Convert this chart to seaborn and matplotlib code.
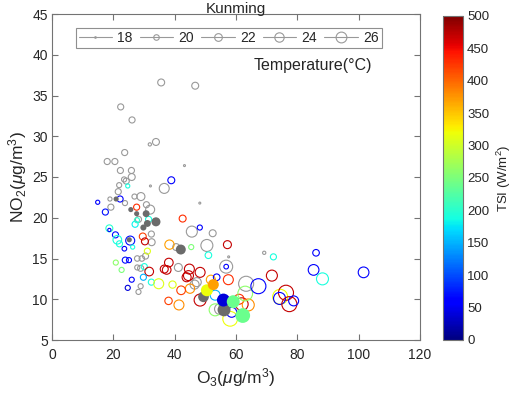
import numpy as np
import pandas as pd
import matplotlib
matplotlib.use("Agg")
import matplotlib.pyplot as plt
import seaborn as sns
from matplotlib.lines import Line2D
from matplotlib.cm import ScalarMappable
from matplotlib.colors import Normalize

sns.set_style("white")
plt.rcParams['font.family'] = ['Liberation Sans', 'DejaVu Sans']
plt.rcParams['mathtext.fontset'] = 'custom'
plt.rcParams['mathtext.rm'] = 'Liberation Sans'
plt.rcParams['mathtext.it'] = 'Liberation Sans:italic'

nan = np.nan
# O3 (ug/m3), NO2 (ug/m3), temperature (C), TSI (W/m2, nan = not available), filled marker
O3 = [35.6, 46.7, 22.4, 26.1, 33.9, 31.9, 23.7, 18.0, 20.5, 22.3, 25.9, 26.0, 43.2, 23.5, 24.2,
      21.9, 24.7, 32.1, 38.9, 36.6, 21.6, 14.9, 19.2, 18.9, 20.9, 22.2, 23.8, 26.9, 29.0, 48.2,
      17.4, 25.7, 27.6, 30.8, 32.0, 27.6, 30.7, 33.9, 31.1, 28.2, 18.7, 18.7, 27.1, 27.7, 29.8,
      31.5, 42.6, 48.2, 45.6, 52.4, 32.4, 20.7, 21.3, 22.0, 25.5, 25.2, 26.3, 23.6, 29.6, 30.3,
      32.5, 38.3, 42.0, 40.5, 45.4, 50.5, 57.2, 20.8, 23.9, 22.7, 25.1, 26.0, 24.7, 27.8, 29.3,
      31.1, 30.5, 30.1, 27.8, 28.9, 31.7, 29.8, 32.4, 34.8, 39.3, 28.9, 28.2, 38.1, 37.4, 41.2,
      36.6, 44.5, 44.8, 43.9, 47.2, 46.5, 48.3, 45.0, 42.1, 38.0, 41.4, 48.3, 49.4, 50.5, 52.6,
      51.8, 53.2, 53.7, 57.5, 55.9, 56.1, 59.1, 62.2, 61.9, 61.0, 64.0, 63.0, 58.1, 53.2, 54.8,
      58.6, 63.3, 67.3, 71.7, 56.8, 56.8, 57.6, 69.2, 72.2, 86.1, 85.3, 88.2, 101.6, 74.4, 76.3,
      74.2, 77.4, 78.8, 51.0]
NO2 = [36.6, 36.2, 33.6, 32.0, 29.3, 29.0, 28.0, 26.9, 26.9, 25.8, 25.8, 25.0, 26.4, 24.7, 24.5,
       24.0, 23.9, 23.9, 24.6, 23.6, 23.2, 21.9, 21.3, 22.3, 22.3, 22.3, 21.8, 22.6, 22.6, 21.8,
       20.7, 21.0, 21.3, 21.6, 21.0, 20.5, 20.5, 19.5, 19.3, 19.8, 18.7, 18.5, 19.2, 19.7, 18.8,
       19.8, 19.9, 18.8, 18.3, 18.1, 18.0, 17.9, 17.3, 16.8, 17.2, 17.3, 16.4, 16.2, 17.7, 17.1,
       17.0, 16.7, 16.1, 16.4, 16.4, 16.6, 16.7, 14.5, 14.8, 13.6, 14.8, 12.4, 11.4, 15.0, 15.0,
       15.9, 15.3, 14.0, 13.9, 13.8, 13.4, 12.7, 12.1, 11.9, 11.8, 11.6, 10.9, 14.5, 13.6, 13.9,
       13.7, 12.9, 13.7, 12.7, 12.1, 11.8, 13.3, 11.3, 11.1, 9.8, 9.3, 9.9, 10.3, 11.1, 11.8,
       12.4, 10.5, 12.7, 12.4, 9.9, 8.7, 9.7, 8.0, 9.4, 10.0, 9.3, 10.7, 7.6, 8.7, 8.8,
       8.4, 11.9, 11.6, 12.9, 14.0, 14.0, 15.2, 15.7, 15.2, 15.7, 13.6, 12.5, 13.3, 10.3, 10.8,
       10.1, 9.4, 9.8, 15.4]
TEMP = [20.0, 20.0, 19.5, 19.5, 20.0, 18.3, 19.5, 19.5, 19.5, 19.5, 19.5, 20.0, 18.0, 19.0, 19.5,
        19.0, 18.6, 18.0, 20.0, 22.3, 19.5, 18.6, 19.5, 18.6, 19.0, 19.5, 19.0, 19.0, 20.7, 18.0,
        19.5, 19.0, 19.5, 19.5, 21.5, 19.0, 20.0, 21.5, 20.0, 19.5, 20.0, 18.3, 19.5, 19.0, 19.5,
        19.5, 20.0, 19.0, 23.3, 20.0, 19.5, 19.5, 21.2, 19.5, 21.5, 19.0, 18.6, 18.8, 20.0, 20.0,
        20.0, 21.7, 22.3, 20.0, 19.0, 24.3, 20.7, 19.0, 19.5, 19.0, 19.0, 19.0, 19.0, 19.2, 19.2,
        19.5, 19.5, 19.5, 19.0, 19.5, 21.2, 19.5, 19.5, 22.3, 20.2, 19.0, 19.0, 21.2, 21.2, 20.7,
        20.7, 22.3, 22.3, 21.5, 21.5, 21.5, 22.3, 21.7, 21.2, 20.3, 22.3, 24.3, 23.0, 24.3, 23.3,
        21.5, 22.3, 19.8, 22.3, 25.4, 25.4, 25.4, 27.6, 25.0, 22.3, 24.3, 27.6, 27.6, 24.3, 23.3,
        22.3, 28.0, 28.0, 23.3, 25.4, 18.8, 18.0, 18.3, 19.5, 19.8, 23.0, 24.3, 23.0, 28.0, 28.5,
        24.3, 28.0, 22.3, 19.8]
TSI = [nan, nan, nan, nan, nan, nan, nan, nan, nan, nan, nan, nan, nan, nan, nan,
       nan, 190, nan, 60, nan, nan, 60, nan, nan, nan, 60, nan, nan, nan, nan,
       70, nan, 430, nan, nan, nan, nan, nan, nan, nan, 200, 60, 180, 200, nan,
       190, 430, 60, nan, nan, nan, 70, 190, 190, 70, nan, 190, 60, 420, 470,
       nan, 370, nan, nan, 250, nan, 470, 260, 70, 250, 60, 60, 40, nan, nan,
       310, nan, 190, nan, nan, 470, 150, 190, 310, 310, nan, nan, 470, 470, nan,
       470, 470, 470, 470, nan, nan, 470, 380, 420, 420, 380, 470, nan, 320, 370,
       370, 150, 60, 430, 40, nan, 240, 240, 470, 430, 380, 260, 320, 260, nan,
       60, nan, 60, 470, nan, 60, nan, nan, 190, 60, 60, 190, 60, 320, 470,
       60, 470, 60, 190]
FILLED = [0, 0, 0, 0, 0, 0, 0, 0, 0, 0, 0, 0, 0, 0, 0,
          0, 0, 0, 0, 0, 0, 0, 0, 0, 1, 0, 0, 0, 0, 0,
          0, 1, 0, 0, 0, 1, 1, 1, 1, 0, 0, 0, 0, 0, 1,
          0, 0, 0, 0, 0, 0, 0, 0, 0, 0, 1, 0, 0, 0, 0,
          0, 0, 1, 0, 0, 0, 0, 0, 0, 0, 0, 0, 0, 0, 0,
          0, 0, 0, 0, 0, 0, 0, 0, 0, 0, 0, 0, 0, 0, 0,
          0, 0, 0, 0, 0, 0, 0, 0, 0, 0, 0, 0, 1, 1, 1,
          0, 0, 0, 0, 1, 1, 1, 1, 0, 0, 0, 0, 0, 0, 0,
          0, 0, 0, 0, 0, 0, 0, 0, 0, 0, 0, 0, 0, 0, 0,
          0, 0, 0, 0]
LEGEND_TEMPS = [18, 20, 22, 24, 26]

df = pd.DataFrame({"O3": O3, "NO2": NO2, "T": TEMP, "TSI": TSI, "filled": FILLED})

fig = plt.figure(figsize=(5.12, 3.94), dpi=100)
ax = fig.add_axes([52/512, 54/394, 368/512, 326/394])
cax = fig.add_axes([443/512, 54/394, 20/512, 324/394])

JET = matplotlib.colormaps['jet']
SIZE_NORM = (18, 28)
SIZES = (2, 117)
norm = Normalize(0, 500)
GRAY_OPEN = (0.6, 0.6, 0.6)
GRAY_FILL = (0.42, 0.42, 0.42)

def hollow(coll_before):
    for c in ax.collections[coll_before:]:
        fc = c.get_facecolors()
        c.set_edgecolors(fc)
        c.set_facecolors('none')
        c.set_linewidths(0.8)

# gray open circles (no TSI)
sub = df[df.TSI.isna() & (df.filled == 0)]
n0 = len(ax.collections)
sns.scatterplot(data=sub, x="O3", y="NO2", size="T", size_norm=SIZE_NORM, sizes=SIZES,
                color=GRAY_OPEN, legend=False, ax=ax, marker='o')
hollow(n0)

# coloured open circles
sub = df[df.TSI.notna() & (df.filled == 0)]
n0 = len(ax.collections)
sns.scatterplot(data=sub, x="O3", y="NO2", size="T", size_norm=SIZE_NORM, sizes=SIZES,
                hue="TSI", hue_norm=norm, palette=JET, legend=False, ax=ax, marker='o')
hollow(n0)

# filled gray
sub = df[df.TSI.isna() & (df.filled == 1)]
sns.scatterplot(data=sub, x="O3", y="NO2", size="T", size_norm=SIZE_NORM, sizes=SIZES,
                color=GRAY_FILL, edgecolor='none', legend=False, ax=ax, marker='o')
# filled coloured
sub = df[df.TSI.notna() & (df.filled == 1)]
sns.scatterplot(data=sub, x="O3", y="NO2", size="T", size_norm=SIZE_NORM, sizes=SIZES,
                hue="TSI", hue_norm=norm, palette=JET, edgecolor='none', legend=False,
                ax=ax, marker='o')

ax.set_xlim(0, 120)
ax.set_ylim(5, 45)
ax.set_xticks(np.arange(0, 121, 20))
ax.set_yticks(np.arange(5, 46, 5))
axcol = (0.45, 0.45, 0.45)
txtcol = (0.15, 0.15, 0.15)
for s in ax.spines.values():
    s.set_color(axcol)
    s.set_linewidth(0.8)
    s.set_visible(True)
ax.tick_params(direction='in', length=4, width=0.8, color=axcol, labelcolor=txtcol,
               labelsize=10, top=True, right=True, bottom=True, left=True, pad=3)
ax.tick_params(axis='x', pad=6)
ax.set_xlabel(r'O$_3$($\mu$g/m$^3$)', fontsize=12.5, color=txtcol, labelpad=3)
ax.set_ylabel(r'NO$_2$($\mu$g/m$^3$)', fontsize=12.5, color=txtcol, labelpad=2)
ax.set_title('Kunming', fontsize=11, color=txtcol, pad=1)

ax.text(0.87, 0.843, 'Temperature(°C)', transform=ax.transAxes, ha='right', va='center',
        fontsize=11.5, color=txtcol)

# size legend (legend markers drawn smaller, like the original)
handles = []
for t in LEGEND_TEMPS:
    s = SIZES[0] + (SIZES[1] - SIZES[0]) * (t - SIZE_NORM[0]) / (SIZE_NORM[1] - SIZE_NORM[0])
    handles.append(Line2D([0], [0], color=GRAY_OPEN, lw=0.8, marker='o', markerfacecolor='none',
                          markeredgecolor=GRAY_OPEN, markersize=0.8 * np.sqrt(s),
                          markeredgewidth=0.8))
leg = ax.legend(handles, [str(t) for t in LEGEND_TEMPS], ncol=5, loc='upper center',
                bbox_to_anchor=(0.48, 0.957), borderaxespad=0, frameon=True, fontsize=10,
                handlelength=2.4, columnspacing=0.5, handletextpad=0.4, borderpad=0.2,
                fancybox=False)
leg.get_frame().set_edgecolor(axcol)
leg.get_frame().set_linewidth(0.8)
for t in leg.get_texts():
    t.set_color(txtcol)

# colorbar
cb = fig.colorbar(ScalarMappable(norm=norm, cmap=JET), cax=cax)
cb.set_ticks(np.arange(0, 501, 50))
cb.outline.set_edgecolor(axcol)
cb.outline.set_linewidth(0.8)
cax.tick_params(direction='in', length=3, width=0.8, color=axcol, labelcolor=txtcol,
                labelsize=9.5, pad=3)
cb.set_label('TSI (W/m$^2$)', fontsize=9.5, color=txtcol, labelpad=4)

fig.savefig('out.png', dpi=100)
